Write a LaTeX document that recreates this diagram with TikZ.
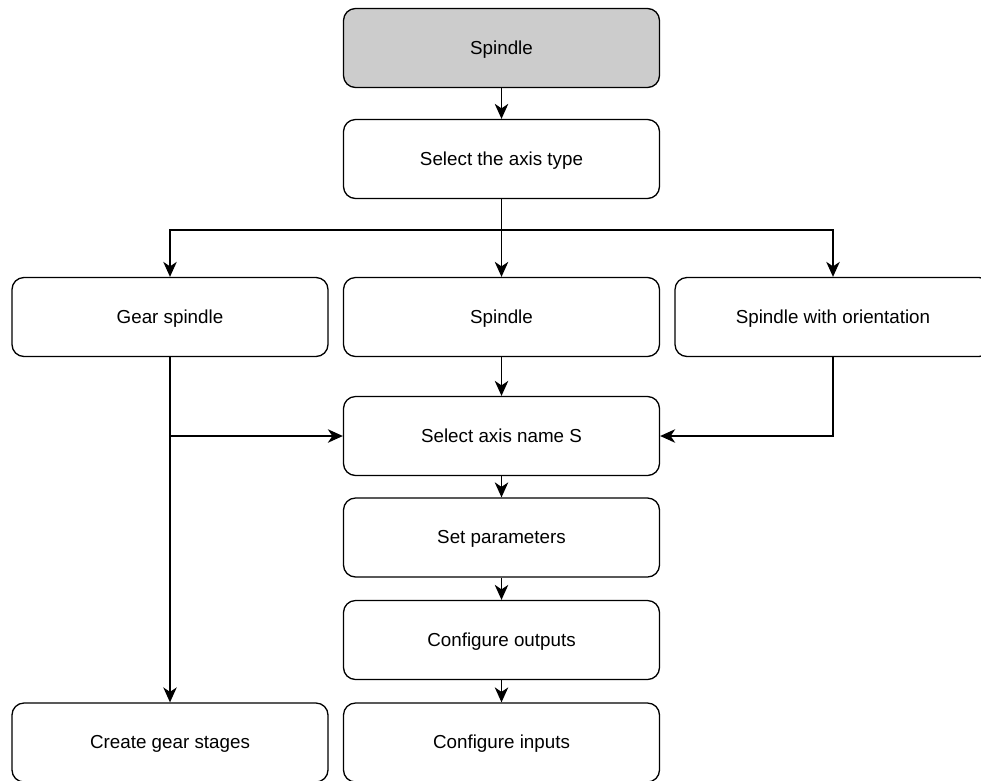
\documentclass[tikz,border=0pt]{standalone}
\usepackage{fontspec}
\setmainfont{Liberation Sans}
\usetikzlibrary{arrows.meta}
\begin{document}
\begin{tikzpicture}[x=1pt,y=-1pt,
 box/.style={draw, line width=1.3pt, rounded corners=12pt, minimum width=316pt, minimum height=79pt, inner sep=0pt, text height=12pt, text depth=0pt, font=\fontsize{18.8}{22}\selectfont, fill=white},
 greybox/.style={box, fill=black!20},
 link/.style={line width=1.3pt},
 conn/.style={line width=1.3pt, -{Stealth[length=15pt,width=13.5pt,inset=4.5pt]}}]
\useasboundingbox (0,0) rectangle (981,780);
\node[greybox] (top) at (501.5,48) {Spindle};
\node[box] (type) at (501.5,159) {Select the axis type};
\node[box] (gear) at (170,317) {Gear spindle};
\node[box] (spin) at (501.5,317) {Spindle};
\node[box] (orient) at (833,317) {Spindle with orientation};
\node[box] (name) at (501.5,436) {Select axis name S};
\node[box] (params) at (501.5,537.5) {Set parameters};
\node[box] (outputs) at (501.5,640) {Configure outputs};
\node[box] (inputs) at (501.5,742.5) {Configure inputs};
\node[box] (create) at (170,742.5) {Create gear stages};
\coordinate (split) at (501.5,230);
\coordinate (junc) at (170,436);
\draw[conn] (top) -- (type);
\draw[link] (type.south) -- (split);
\draw[conn] (split) -| (gear.north);
\draw[conn] (split) -- (spin.north);
\draw[conn] (split) -| (orient.north);
\draw[conn] (gear.south) -- (create.north);
\draw[conn] (junc) -- (name.west);
\draw[conn] (spin) -- (name);
\draw[conn] (orient.south) |- (name.east);
\draw[conn] (name) -- (params);
\draw[conn] (params) -- (outputs);
\draw[conn] (outputs) -- (inputs);
\end{tikzpicture}
\end{document}
